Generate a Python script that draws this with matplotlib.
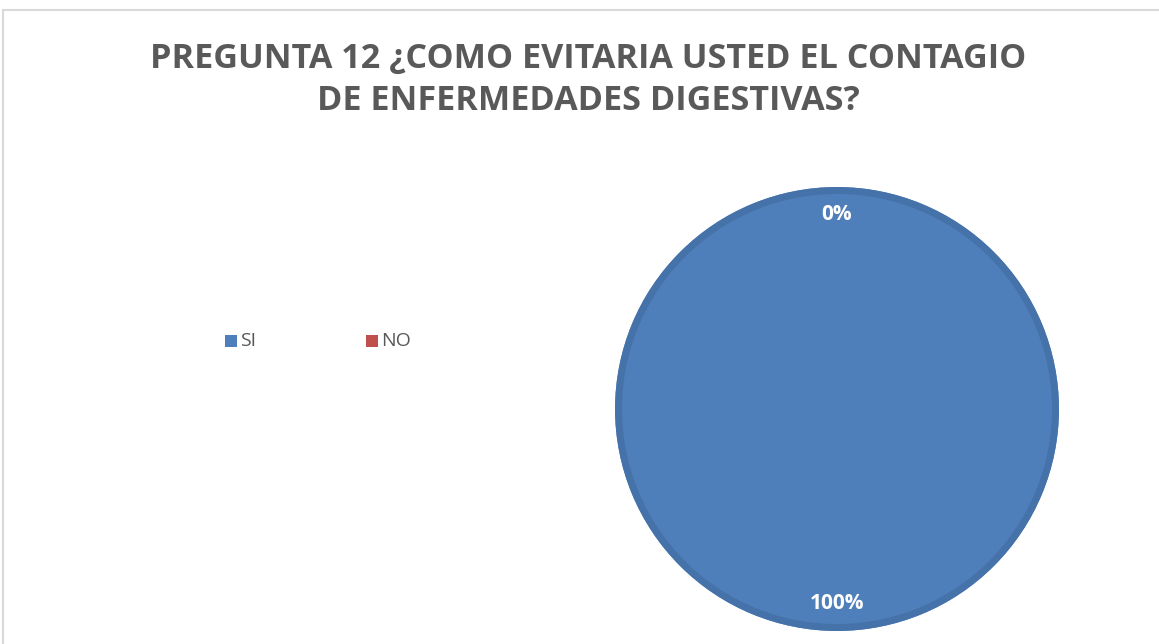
import matplotlib
matplotlib.use("Agg")
import matplotlib.pyplot as plt
from matplotlib.patches import Rectangle, Circle

categories = ["SI", "NO"]
values = [100, 0]
colors = ["#4f7fba", "#c0504d"]
title = "PREGUNTA 12 ¿COMO EVITARIA USTED EL CONTAGIO\nDE ENFERMEDADES DIGESTIVAS?"

W, H = 1159, 644
fig = plt.figure(figsize=(W / 100, H / 100), dpi=100)
fig.patch.set_facecolor("white")

# chart frame
fig.add_artist(Rectangle((3 / W, -0.01), 1.02, 1 - 10 / H + 0.01, transform=fig.transFigure,
                         fill=False, edgecolor="#d9d9d9", linewidth=1.5))

fig.text(588 / W, 1 - 80 / H, title, ha="center", va="center", fontsize=24.6,
         fontweight="bold", color="#595959", family="Open Sans", linespacing=1.3)

cx, cy, r = 837, 409, 222
ax = fig.add_axes([(cx - r) / W, 1 - (cy + r) / H, 2 * r / W, 2 * r / H])
wedges, texts, autotexts = ax.pie(
    values, colors=colors, startangle=90, counterclock=False,
    autopct="%1.0f%%", pctdistance=0.875,
    wedgeprops=dict(linewidth=0),
    textprops=dict(color="white", fontsize=15, fontweight="bold", family="Open Sans"),
    radius=1.0)
ax.add_patch(Circle((0, 0), 0.984, fill=False, edgecolor="#4672aa", linewidth=5, zorder=3))
for t in autotexts:
    t.set_zorder(5)
ax.set_xlim(-1, 1)
ax.set_ylim(-1, 1)
ax.set_aspect("equal")
ax.axis("off")

# legend
lx = [231, 372]
ly = 341
for i, (c, col) in enumerate(zip(categories, colors)):
    fig.add_artist(Rectangle(((lx[i] - 6) / W, 1 - (ly + 6) / H), 12 / W, 12 / H,
                             transform=fig.transFigure, facecolor=col, edgecolor="none"))
    fig.text((lx[i] + 9) / W, 1 - ly / H, c, ha="left", va="center", fontsize=14,
             color="#595959", family="Open Sans")

fig.savefig("out.png", dpi=100)
